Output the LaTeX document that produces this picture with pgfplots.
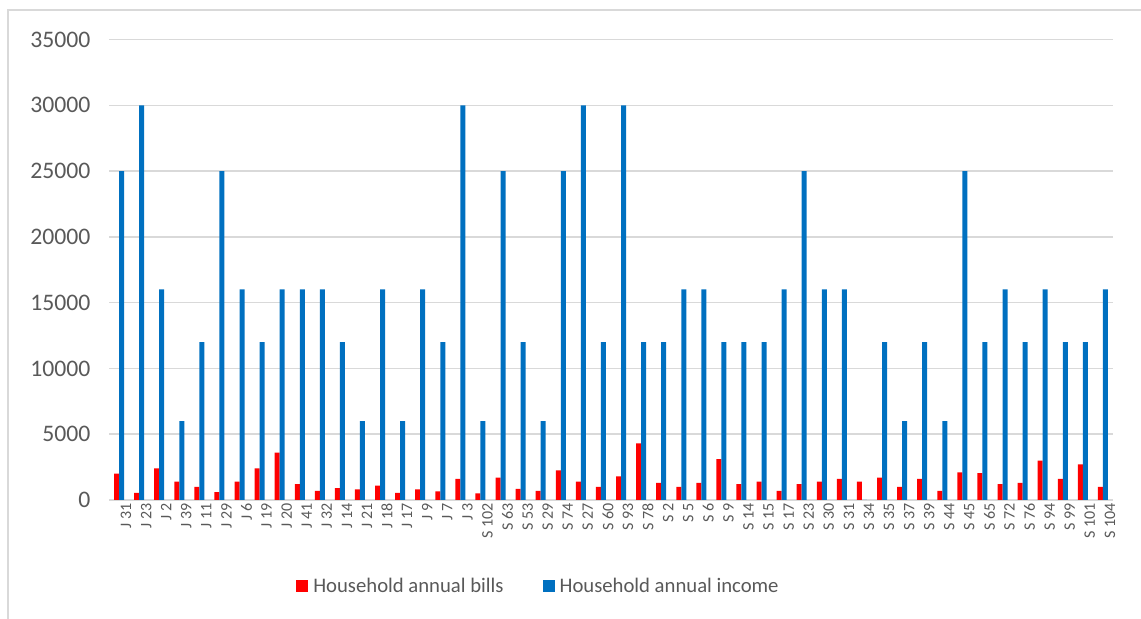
\documentclass[border=0pt]{standalone}
\usepackage{fontspec}
\setmainfont{Carlito}
\usepackage{pgfplots}
\pgfplotsset{compat=1.18}
\usepackage{pgfplotstable}

\definecolor{billred}{HTML}{FF0000}
\definecolor{incblue}{HTML}{0070C0}
\definecolor{gridgray}{HTML}{D9D9D9}
\definecolor{textgray}{HTML}{595959}

% household id index, annual bills, annual income
\pgfplotstableread{
idx bills income
0  2000 25000
1  550  30000
2  2400 16000
3  1400 6000
4  1000 12000
5  600  25000
6  1400 16000
7  2400 12000
8  3600 16000
9  1200 16000
10 700  16000
11 900  12000
12 800  6000
13 1100 16000
14 550  6000
15 800  16000
16 650  12000
17 1600 30000
18 500  6000
19 1700 25000
20 850  12000
21 700  6000
22 2250 25000
23 1400 30000
24 1000 12000
25 1800 30000
26 4300 12000
27 1300 12000
28 1000 16000
29 1300 16000
30 3100 12000
31 1200 12000
32 1400 12000
33 700  16000
34 1200 25000
35 1400 16000
36 1600 16000
37 1400 0
38 1700 12000
39 1000 6000
40 1600 12000
41 700  6000
42 2100 25000
43 2050 12000
44 1200 16000
45 1300 12000
46 3000 16000
47 1600 12000
48 2700 12000
49 1000 16000
}\households

\begin{document}
\begin{tikzpicture}[x=1bp,y=1bp]
\path[use as bounding box] (0,0) rectangle (1141,619);
\draw[gridgray, line width=1.5bp] (8,0) -- (8,609) -- (1141,609);
\begin{axis}[
  at={(109bp,119bp)}, anchor=south west,
  scale only axis, width=1004bp, height=460.5bp,
  ybar=0pt, bar width=5bp,
  xmin=-0.5, xmax=49.5, ymin=0, ymax=35000,
  ytick={0,5000,...,35000},
  xtick=data,
  xticklabels={J 31, J 23, J 2, J 39, J 11, J 29, J 6, J 19, J 20, J 41,
    J 32, J 14, J 21, J 18, J 17, J 9, J 7, J 3, S 102, S 63,
    S 53, S 29, S 74, S 27, S 60, S 93, S 78, S 2, S 5, S 6,
    S 9, S 14, S 15, S 17, S 23, S 30, S 31, S 34, S 35, S 37,
    S 39, S 44, S 45, S 65, S 72, S 76, S 94, S 99, S 101, S 104},
  axis line style={draw=none},
  tick style={draw=none},
  major tick length=0pt,
  ymajorgrids,
  grid style={gridgray, line width=1.5bp},
  scaled y ticks=false,
  yticklabel style={/pgf/number format/.cd, fixed, 1000 sep={}, assume math mode=true, /tikz/.cd,
    font=\fontsize{23.7bp}{28bp}\selectfont, text=textgray, xshift=-15bp},
  xticklabel style={font=\fontsize{16bp}{19bp}\selectfont, text=textgray,
    rotate=90, anchor=east, yshift=-7bp},
  legend columns=2,
  legend style={at={(0.4278,-0.1868)}, anchor=center, draw=none, fill=none,
    font=\fontsize{20.7bp}{25bp}\selectfont, text=textgray,
    /tikz/every even column/.append style={column sep=37bp}},
  legend image code/.code={\fill[#1, draw=none] (0bp,-6bp) rectangle (12bp,6bp);
    \path (15bp,0bp);},
]
\addplot[fill=billred, draw=none] table[x=idx, y=bills] {\households};
\addplot[fill=incblue, draw=none] table[x=idx, y=income] {\households};
\legend{Household annual bills, Household annual income}
\end{axis}
\end{tikzpicture}
\end{document}
